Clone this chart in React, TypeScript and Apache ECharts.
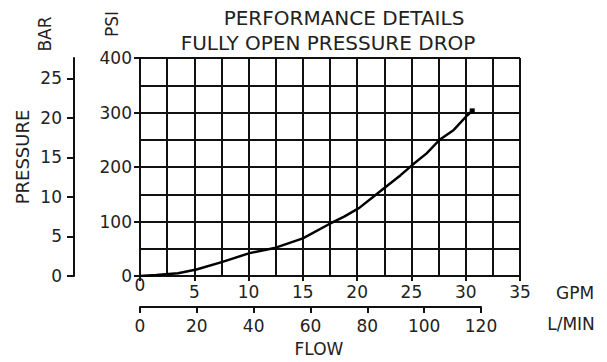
import React, { useEffect, useRef } from "react";
import * as echarts from "echarts";

// Flow (GPM) vs pressure drop (PSI)
const flowGpm = [0, 1.5, 3.5, 5.2, 7.6, 10.1, 12.5, 15.0, 17.4, 18.8, 20.2, 22.1, 24.0, 25.1, 26.4, 27.6, 28.9, 30.1, 30.6];
const pressurePsi = [0, 2, 5, 12, 26, 42, 52, 69, 95, 109, 125, 155, 185, 204, 225, 250, 268, 294, 303];

const barTicks = [0, 5, 10, 15, 20, 25];
const titleLines = ["PERFORMANCE DETAILS", "FULLY OPEN PRESSURE DROP"];
const PSI_PER_BAR = 14.5038;
const PSI_MAX = 400;
const GPM_MAX = 35;
const LMIN_MAX = 120;

const FONT = "DejaVu Sans";
const INK = "#111";
const TXT = "#222";

export default function App() {
  const ref = useRef<HTMLDivElement>(null);
  useEffect(() => {
    document.body.style.margin = "0";
    const chart = echarts.init(ref.current!, null, { renderer: "svg" });
    const lineStyle = { color: INK, width: 2 };
    const labelBase = { color: TXT, fontFamily: FONT, fontSize: 17 };
    const textStyle = (size: number) => ({ fill: TXT, font: `${size}px "${FONT}"`, align: "center", verticalAlign: "middle" });
    const last = flowGpm.length - 1;
    chart.setOption({
      animation: false,
      backgroundColor: "#fff",
      grid: [
        { left: 140, top: 58, width: 380, height: 218, outerBoundsMode: "none", containLabel: false },
        { left: 140, top: 58, width: 341, height: 249, outerBoundsMode: "none", containLabel: false },
      ],
      xAxis: [
        {
          type: "value", gridIndex: 0, min: 0, max: GPM_MAX, interval: 5,
          axisLine: { show: true, onZero: false, lineStyle },
          axisTick: { show: true, length: 5, lineStyle },
          axisLabel: {
            ...labelBase, margin: 7,
            formatter: (v: number) => (v === 0 ? "{z|0}" : String(v)),
            rich: { z: { ...labelBase, lineHeight: 4 } },
          },
          splitLine: { show: true, lineStyle },
          minorTick: { show: false, splitNumber: 2 },
          minorSplitLine: { show: true, lineStyle },
        },
        {
          type: "value", gridIndex: 1, min: 0, max: LMIN_MAX, interval: 20,
          axisLine: { show: true, onZero: false, lineStyle },
          axisTick: { show: true, length: 6, lineStyle },
          axisLabel: { ...labelBase, margin: 10 },
          splitLine: { show: false },
        },
      ],
      yAxis: [
        {
          type: "value", gridIndex: 0, min: 0, max: PSI_MAX, interval: 100,
          axisLine: { show: true, onZero: false, lineStyle },
          axisTick: { show: true, length: 6, lineStyle },
          axisLabel: { ...labelBase, margin: 8 },
          splitLine: { show: true, lineStyle },
          minorTick: { show: false, splitNumber: 2 },
          minorSplitLine: { show: true, lineStyle },
        },
        {
          type: "value", gridIndex: 0, position: "left", offset: 66,
          min: 0, max: PSI_MAX / PSI_PER_BAR,
          axisLine: { show: true, onZero: false, lineStyle },
          axisTick: { show: true, length: 7, lineStyle, customValues: barTicks },
          axisLabel: { ...labelBase, margin: 12, customValues: barTicks },
          splitLine: { show: false },
        },
        { type: "value", gridIndex: 1, show: false, min: 0, max: 1 },
      ],
      series: [
        {
          type: "line", xAxisIndex: 0, yAxisIndex: 0,
          data: flowGpm.map((g, i) =>
            i === last
              ? { value: [g, pressurePsi[i]], symbol: "rect", symbolSize: 5, itemStyle: { color: "#000" } }
              : { value: [g, pressurePsi[i]], symbol: "none" }
          ),
          showSymbol: true,
          lineStyle: { color: "#000", width: 2.5 },
        },
      ],
      graphic: [
        { type: "text", x: 344, y: 18, style: { text: titleLines[0], ...textStyle(20) } },
        { type: "text", x: 328, y: 43, style: { text: titleLines[1], ...textStyle(20) } },
        { type: "text", x: 45, y: 34, rotation: Math.PI / 2, style: { text: "BAR", ...textStyle(17) } },
        { type: "text", x: 112, y: 24, rotation: Math.PI / 2, style: { text: "PSI", ...textStyle(17) } },
        { type: "text", x: 22, y: 157, rotation: Math.PI / 2, style: { text: "PRESSURE", ...textStyle(18) } },
        { type: "text", x: 575, y: 293, style: { text: "GPM", ...textStyle(17) } },
        { type: "text", x: 571, y: 324, style: { text: "L/MIN", ...textStyle(17) } },
        { type: "text", x: 319, y: 349, style: { text: "FLOW", ...textStyle(17) } },
      ],
    });
    return () => chart.dispose();
  }, []);
  return <div ref={ref} style={{ width: 607, height: 362 }} />;
}
